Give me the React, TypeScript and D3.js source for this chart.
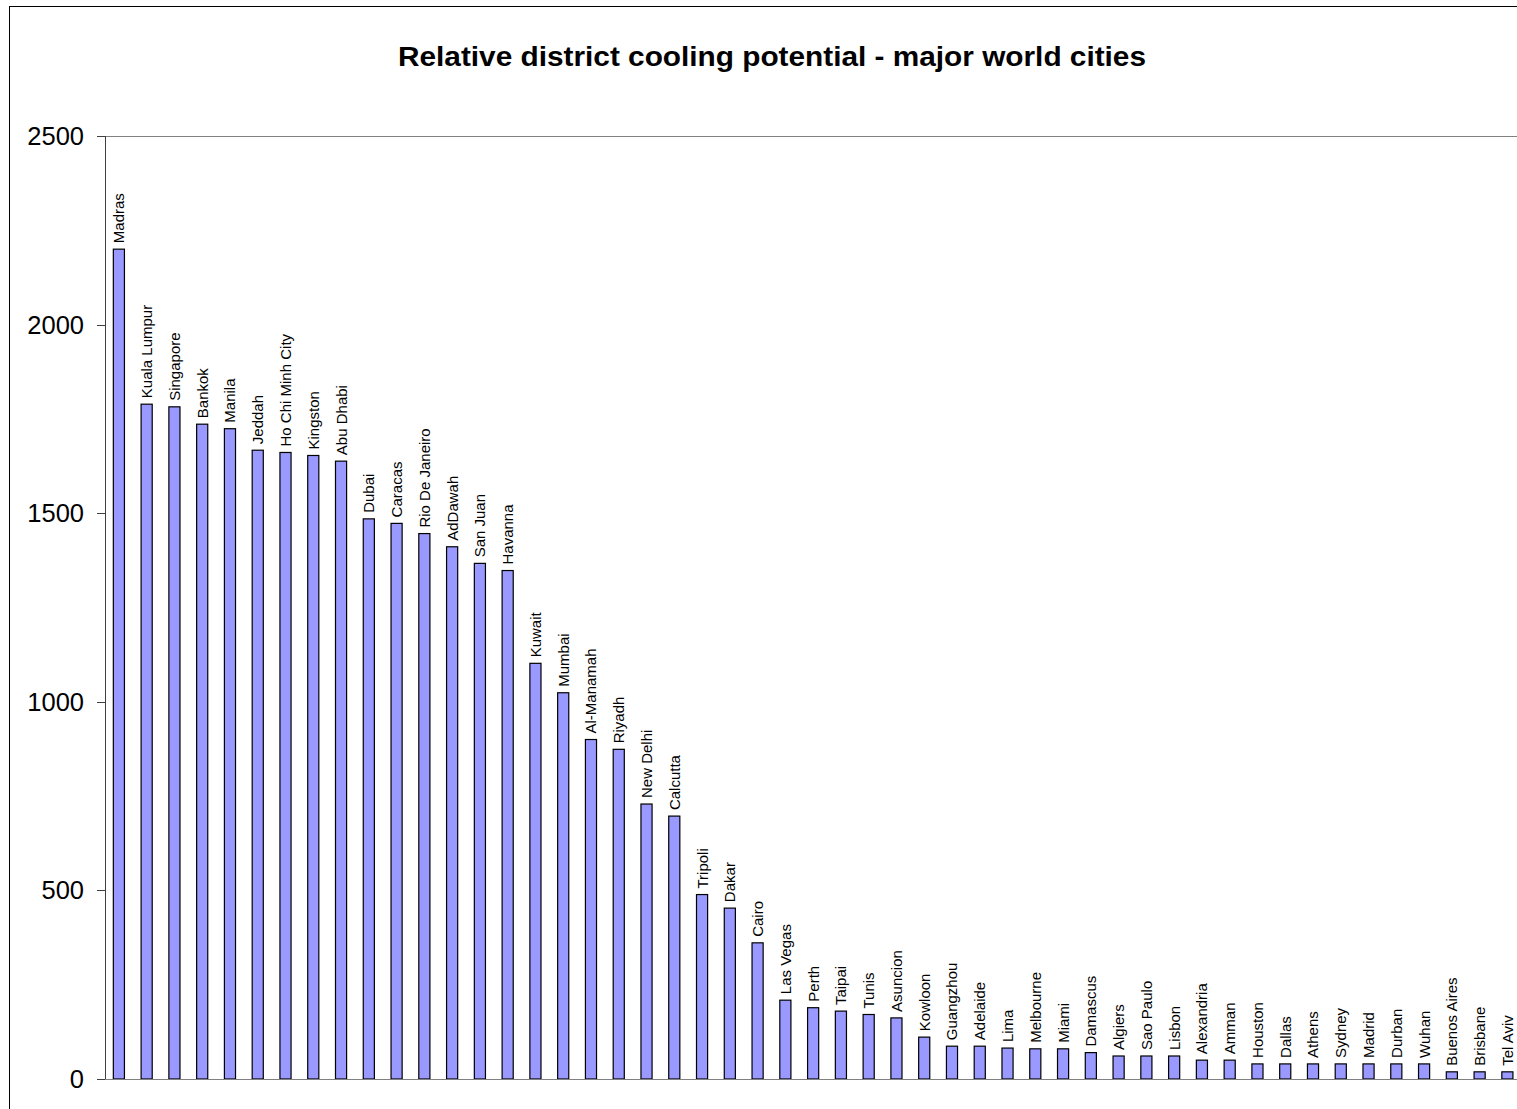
import React from "react";
import * as d3 from "d3";

const cities = [
  "Madras", "Kuala Lumpur", "Singapore", "Bankok", "Manila", "Jeddah", "Ho Chi Minh City",
  "Kingston", "Abu Dhabi", "Dubai", "Caracas", "Rio De Janeiro", "AdDawah", "San Juan",
  "Havanna", "Kuwait", "Mumbai", "Al-Manamah", "Riyadh", "New Delhi", "Calcutta", "Tripoli",
  "Dakar", "Cairo", "Las Vegas", "Perth", "Taipai", "Tunis", "Asuncion", "Kowloon",
  "Guangzhou", "Adelaide", "Lima", "Melbourne", "Miami", "Damascus", "Algiers", "Sao Paulo",
  "Lisbon", "Alexandria", "Amman", "Houston", "Dallas", "Athens", "Sydney", "Madrid",
  "Durban", "Wuhan", "Buenos Aires", "Brisbane", "Tel Aviv",
];

const potential = [
  2200, 1789, 1782, 1736, 1724, 1667, 1661, 1653, 1638, 1485, 1473, 1446, 1411, 1367,
  1348, 1102, 1024, 900, 874, 729, 697, 489, 453, 361, 209, 189, 180, 171, 162, 111,
  87, 87, 82, 80, 80, 70, 61, 61, 61, 50, 50, 40, 40, 40, 40, 40, 40, 40, 19, 19, 19,
];

const yTicks = [0, 500, 1000, 1500, 2000, 2500];
const title = "Relative district cooling potential - major world cities";

export default function App() {
  const W = 1517;
  const H = 1109;
  const left = 105;
  const top = 136;
  const bottom = 1079;
  const step = 27.77;
  const right = left + step * cities.length;

  const x = d3
    .scaleBand<string>()
    .domain(cities)
    .range([left, right])
    .paddingInner(0.6)
    .paddingOuter(0.3);
  const y = d3.scaleLinear().domain([0, 2500]).range([bottom, top]);

  const font = "'Liberation Sans', Arial, sans-serif";

  return (
    <div style={{ position: "absolute", left: 0, top: 0 }}>
      <svg width={W} height={H} style={{ display: "block" }}>
        <rect x={0} y={0} width={W} height={H} fill="#fff" />
        <rect x={9.5} y={6.5} width={W + 20} height={H + 20} fill="none" stroke="#000" strokeWidth={1} />
        <text
          x={772}
          y={57}
          textAnchor="middle"
          dominantBaseline="central"
          fontFamily={font}
          fontWeight="bold"
          fontSize={27}
          textLength={748}
          lengthAdjust="spacingAndGlyphs"
          fill="#000"
        >
          {title}
        </text>
        {/* gridline at top */}
        <line x1={left} x2={W} y1={y(2500) + 0.5} y2={y(2500) + 0.5} stroke="#808080" strokeWidth={1} />
        {/* y axis */}
        <line x1={left + 0.5} x2={left + 0.5} y1={top} y2={bottom} stroke="#404040" strokeWidth={1} />
        {yTicks.map((t) => (
          <g key={t}>
            <line x1={97} x2={left} y1={Math.round(y(t)) + 0.5} y2={Math.round(y(t)) + 0.5} stroke="#404040" strokeWidth={1} />
            <text
              x={84}
              y={y(t)}
              textAnchor="end"
              dominantBaseline="central"
              fontFamily={font}
              fontSize={25.5}
              fill="#000"
            >
              {t}
            </text>
          </g>
        ))}
        {cities.map((c, i) => {
          const bx = x(c)!;
          const by = y(potential[i]);
          const bw = x.bandwidth();
          const cx = bx + bw / 2;
          return (
            <g key={c}>
              <rect
                x={bx}
                y={by}
                width={bw}
                height={bottom - by}
                fill="#9999FF"
                stroke="#000"
                strokeWidth={1.2}
              />
              <text
                transform={`translate(${cx},${by - 6}) rotate(-90)`}
                textAnchor="start"
                dominantBaseline="central"
                fontFamily={font}
                fontSize={15}
                fill="#000"
              >
                {c}
              </text>
            </g>
          );
        })}
        {/* x axis */}
        <line x1={left} x2={W} y1={bottom + 0.5} y2={bottom + 0.5} stroke="#808080" strokeWidth={1} />
      </svg>
    </div>
  );
}
